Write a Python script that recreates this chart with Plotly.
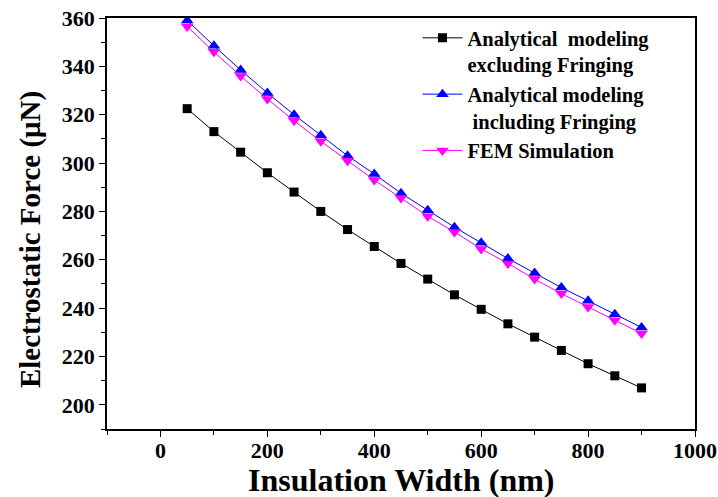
import plotly.graph_objects as go

x_nm = [50, 100, 150, 200, 250, 300, 350, 400, 450, 500, 550, 600, 650, 700, 750, 800, 850, 900]
excl = [322.5, 313, 304.5, 296, 288, 280, 272.5, 265.5, 258.5, 252, 245.5, 239.5, 233.5, 228, 222.5, 217, 212, 207]
incl = [359, 348.5, 338.5, 329, 320, 311.5, 303, 295.5, 287.5, 280.5, 273.5, 267, 260.5, 254.5, 248.5, 243, 237.5, 232]
fem = [356.5, 346, 336, 326.5, 317.5, 309, 301, 293, 285.5, 278, 271.5, 264.5, 258.5, 252, 246, 240.5, 235, 229.5]

names = ["Analytical  modeling<br>excluding Fringing",
         "Analytical modeling<br> including Fringing",
         "FEM Simulation"]
x_title = "Insulation Width (nm)"
y_title = "Electrostatic Force (μN)"

font = "Liberation Serif"

fig = go.Figure()
fig.add_trace(go.Scatter(x=x_nm, y=excl, name=names[0], mode="lines+markers",
                         line=dict(color="black", width=1),
                         marker=dict(symbol="square", size=9, color="black")))
fig.add_trace(go.Scatter(x=x_nm, y=incl, name=names[1], mode="lines+markers",
                         line=dict(color="blue", width=1),
                         marker=dict(symbol="triangle-up", size=11, color="blue")))
fig.add_trace(go.Scatter(x=x_nm, y=fem, name=names[2], mode="lines+markers",
                         line=dict(color="magenta", width=1),
                         marker=dict(symbol="triangle-down", size=11, color="magenta")))

fig.update_layout(
    width=718, height=497,
    margin=dict(l=107, r=23, t=18, b=68),
    paper_bgcolor="white", plot_bgcolor="white",
    font=dict(family=font, size=21, color="black", weight="bold"),
    xaxis=dict(range=[-100, 1000], dtick=200, tick0=0, automargin=False,
               showline=True, linecolor="black", linewidth=1.5, mirror=True,
               showgrid=False, zeroline=False, ticks="outside", ticklen=6,
               tickcolor="black", tickwidth=1, ticklabelstandoff=-5,
               tickfont_family=font, tickfont_size=22, tickfont_weight="bold",
               minor=dict(ticks="outside", ticklen=4, dtick=100, tick0=0, tickcolor="black")),
    yaxis=dict(range=[190, 360], dtick=20, tick0=0, automargin=False,
               showline=True, linecolor="black", linewidth=1.5, mirror=True,
               showgrid=False, zeroline=False, ticks="outside", ticklen=6,
               tickcolor="black", tickwidth=1,
               tickfont_family=font, tickfont_size=22, tickfont_weight="bold",
               minor=dict(ticks="outside", ticklen=4, dtick=10, tick0=0, tickcolor="black")),
    legend=dict(x=0.528, y=1.0, xanchor="left", yanchor="top",
                bgcolor="rgba(0,0,0,0)", valign="top", tracegroupgap=0,
                itemwidth=40,
                font=dict(family=font, size=20.5, color="black", weight="bold")),
    annotations=[
        dict(text=x_title, xref="paper", yref="paper", x=0.5, y=-0.124,
             xanchor="center", yanchor="middle", showarrow=False,
             font=dict(family=font, size=32, color="black", weight="bold")),
        dict(text=y_title, xref="paper", yref="paper", x=-0.131, y=0.462,
             xanchor="center", yanchor="middle", showarrow=False, textangle=-90,
             font=dict(family=font, size=29, color="black", weight="bold")),
    ],
)

fig.write_html("out.html")
